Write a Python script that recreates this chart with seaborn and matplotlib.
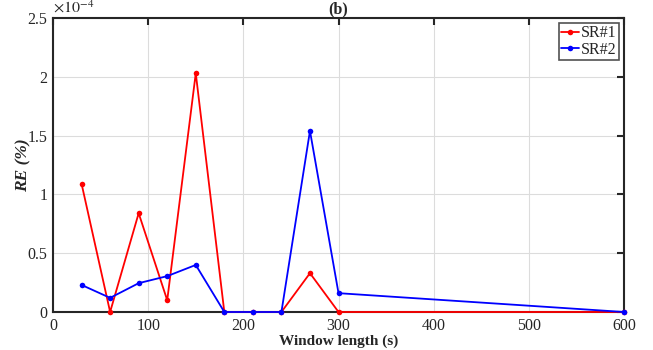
import matplotlib
matplotlib.use("Agg")
import matplotlib.pyplot as plt
import seaborn as sns
import pandas as pd
from matplotlib.ticker import FormatStrFormatter, MultipleLocator

# Data (RE in units of 1e-4 %)
window = [30, 60, 90, 120, 150, 180, 210, 240, 270, 300, 600]
sr1 = [1.09, 0.0, 0.84, 0.10, 2.03, 0.0, 0.0, 0.0, 0.33, 0.0, 0.0]
sr2 = [0.23, 0.12, 0.245, 0.305, 0.40, 0.0, 0.0, 0.0, 1.54, 0.16, 0.0]
series_names = ["SR#1", "SR#2"]
colors = ["#ff0000", "#0000ff"]

df = pd.DataFrame({
    "Window": window * 2,
    "RE": sr1 + sr2,
    "Series": [series_names[0]] * len(window) + [series_names[1]] * len(window),
})

sns.set_style("white")
plt.rcParams["font.family"] = ["Liberation Serif", "DejaVu Serif"]
plt.rcParams["mathtext.fontset"] = "stix"

fig = plt.figure(figsize=(6.53, 3.5), dpi=100)
ax = fig.add_axes([0.0812, 0.1086, 0.8744, 0.84])

sns.lineplot(data=df, x="Window", y="RE", hue="Series", palette=colors,
             marker="o", markersize=4, markeredgewidth=0, linewidth=1.3,
             ax=ax, legend=True)
for ln in ax.get_lines():
    ln.set_clip_on(False)
    ln.set_zorder(5)

ax.set_xlim(0, 600)
ax.set_ylim(0, 2.5)
ax.xaxis.set_major_locator(MultipleLocator(100))
ax.yaxis.set_major_locator(MultipleLocator(0.5))
ax.yaxis.set_major_formatter(FormatStrFormatter("%g"))
ax.grid(True, color="#dcdcdc", linewidth=0.8)
ax.set_axisbelow(True)

for s in ax.spines.values():
    s.set_visible(True)
    s.set_color("#262626")
    s.set_linewidth(1.5)
    s.set_zorder(3)

ax.tick_params(direction="in", length=5, width=1.5, top=True, right=True,
               labelsize=11.5, colors="#262626", pad=4)
for lbl in ax.get_xticklabels() + ax.get_yticklabels():
    lbl.set_color("#262626")

ax.set_xlabel("Window length (s)", fontsize=11, fontweight="bold", labelpad=1)
ax.set_ylabel("RE (%)", fontsize=12.5, fontweight="bold", style="italic", labelpad=-3)
ax.set_title("(b)", fontsize=11.5, fontweight="bold", pad=3)
ax.text(0.0, 1.005, r"$\times10^{-4}$", transform=ax.transAxes, fontsize=11.5,
        ha="left", va="bottom", color="#262626")

leg = ax.legend(loc="upper right", fontsize=11.5, frameon=True, fancybox=False,
                borderpad=0.15, handlelength=1.1, handletextpad=0.15,
                labelspacing=0.05, borderaxespad=0.3)
leg.get_frame().set_edgecolor("#262626")
leg.get_frame().set_linewidth(1.2)
leg.set_zorder(10)

fig.savefig("out.png", dpi=100)
